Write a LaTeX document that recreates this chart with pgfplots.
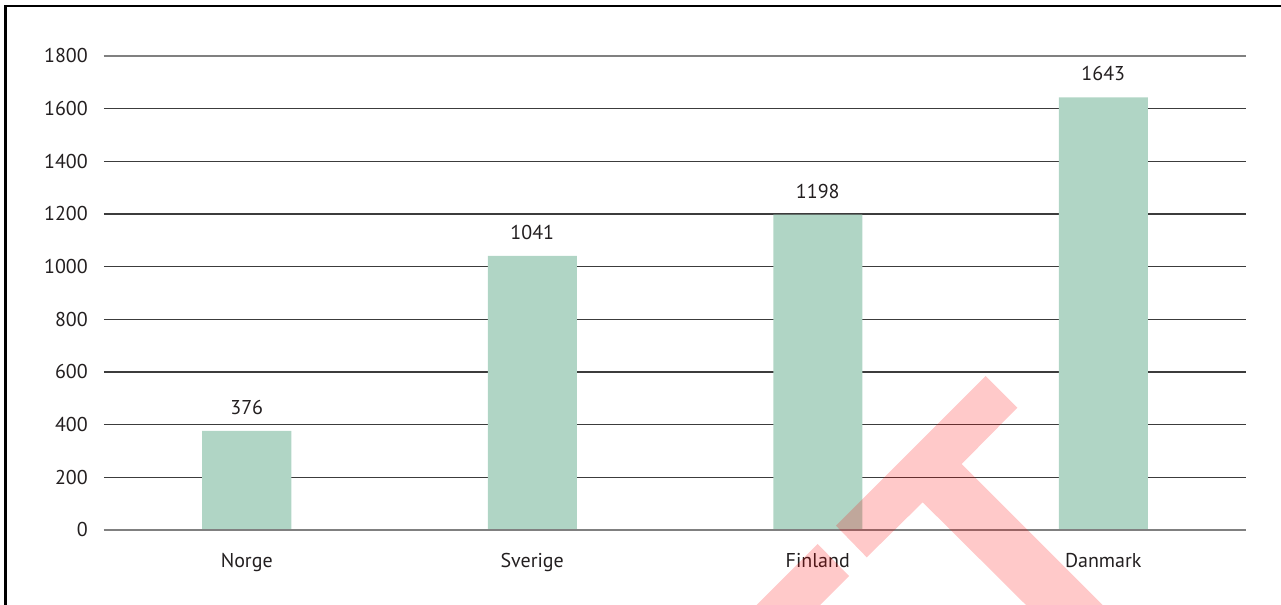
\documentclass[border=0pt]{standalone}
\usepackage{pgfplots}
\pgfplotsset{compat=1.18}
\usepackage{fontspec}
\setmainfont{PT Sans}
\definecolor{barc}{RGB}{176,213,197}
\definecolor{txt}{RGB}{35,31,32}
\definecolor{gridc}{RGB}{60,60,60}
\begin{document}
\fontsize{15}{18}\selectfont
\begin{tikzpicture}
\begin{axis}[
  at={(0pt,0pt)}, anchor=south west,
  scale only axis,
  width=856.5pt, height=355.5pt,
  ybar, bar width=66.75pt,
  xmin=-0.5, xmax=3.5, ymin=0, ymax=1800,
  xtick=data,
  xticklabels={Norge,Sverige,Finland,Danmark},
  ytick={0,200,400,600,800,1000,1200,1400,1600,1800},
  axis line style={draw=none},
  major tick length=0pt,
  ymajorgrids,
  grid style={draw=gridc, line width=0.8pt},
  /pgf/number format/1000 sep={},
  /pgf/number format/assume math mode=true,
  yticklabel style={text=txt, inner sep=0pt, xshift=-12pt},
  xticklabel style={text=txt, inner sep=0pt, yshift=-17pt},
  nodes near coords,
  every node near coord/.append style={text=txt, inner sep=0pt, yshift=12pt},
  clip=false,
]
\addplot[fill=barc, draw=none] coordinates {(0,376) (1,1041) (2,1198) (3,1643)};
\draw[draw=gray, line width=1.3pt] (axis cs:-0.5,0) -- (axis cs:3.5,0);
\draw[draw=gray, line width=1.3pt] (axis cs:-0.5,1800) -- (axis cs:3.5,1800);
\end{axis}
\begin{scope}[x=0.75pt,y=0.75pt]
% pixel (X,Y) -> (X-104, 530-Y)
\path[use as bounding box] (-104,-75) rectangle (1177,530);
\draw[line width=1.9pt, black] (-98.5,-75) -- (-98.5,524) -- (1177,524);
\fill[red, opacity=0.21]
  (732,4.3) -- (881.7,154) -- (913.3,122.3) -- (857.7,66) -- (998.7,-75)
  -- (922,-75) -- (818.7,27.7) -- (762.7,-27.3) -- cycle;
\fill[red, opacity=0.21]
  (713.7,-14) -- (745,-46) -- (716,-75) -- (652.7,-75) -- cycle;
\end{scope}
\end{tikzpicture}
\end{document}
